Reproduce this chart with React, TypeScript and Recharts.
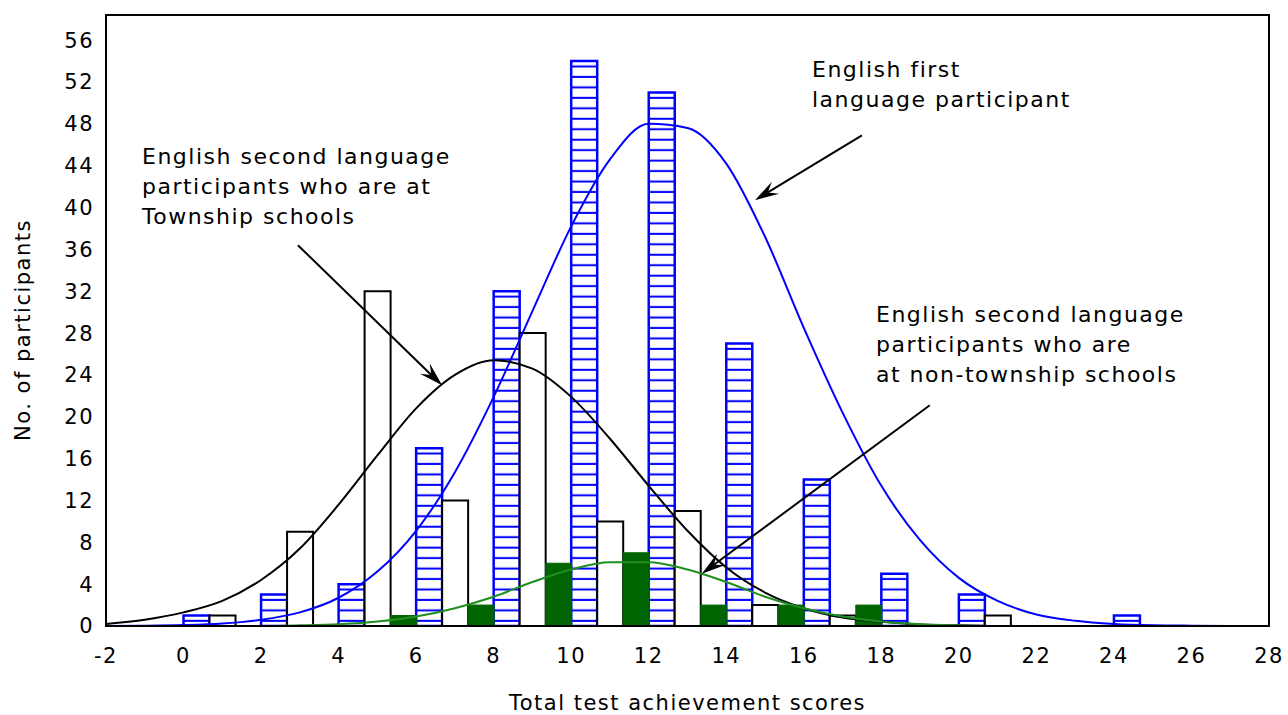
import {
  Bar,
  ComposedChart,
  Line,
  ReferenceArea,
  ReferenceLine,
  XAxis,
  YAxis,
} from "recharts";

// histogram bins (width 2, labelled by their lower edge)
const binStarts = [-2, 0, 2, 4, 6, 8, 10, 12, 14, 16, 18, 20, 22, 24, 26];
const firstLanguage = [0, 1, 3, 4, 17, 32, 54, 51, 27, 14, 5, 3, 0, 1, 0];
const township = [0, 1, 9, 32, 12, 28, 10, 11, 2, 1, 0, 1, 0, 0, 0];
const nonTownship = [0, 0, 0, 1, 2, 6, 7, 2, 2, 2, 0, 0, 0, 0, 0];

// fitted curves, read at each whole score
const curveX = [
  -2, -1, 0, 1, 2, 3, 4, 5, 6, 7, 8, 9, 10, 11, 12, 13, 14, 15, 16, 17, 18, 19,
  20, 21, 22, 23, 24, 25, 26, 27, 28,
];
const firstCurve = [
  0.01, 0.03, 0.09, 0.24, 0.6, 1.3, 2.7, 5.2, 9.1, 14.7, 21.9, 30.1, 38.2, 44.6,
  48.0, 47.6, 44.2, 37.2, 28.5, 20.4, 13.4, 8.2, 4.6, 2.4, 1.1, 0.5, 0.2, 0.07,
  0.03, 0.01, 0,
];
const townshipCurve = [
  0.2, 0.6, 1.3, 2.4, 4.4, 7.4, 11.6, 16.3, 20.8, 24.0, 25.4, 24.6, 21.9, 17.9,
  13.4, 9.1, 5.6, 3.2, 1.7, 0.8, 0.4, 0.15, 0.06, 0, 0, 0, 0, 0, 0, 0, 0,
];
const nonTownshipCurve = [
  0, 0, 0, 0, 0, 0.06, 0.17, 0.42, 0.9, 1.7, 2.8, 4.2, 5.4, 6.1, 6.1, 5.4, 4.2,
  2.8, 1.7, 0.9, 0.42, 0.17, 0.06, 0, 0, 0, 0, 0, 0, 0, 0,
];

const xTicks = [-2, 0, 2, 4, 6, 8, 10, 12, 14, 16, 18, 20, 22, 24, 26, 28];
const yTicks = [0, 4, 8, 12, 16, 20, 24, 28, 32, 36, 40, 44, 48, 52, 56];

const bins = binStarts.map((start, i) => ({
  bin: start,
  first: firstLanguage[i],
  township: township[i],
  nonTownship: nonTownship[i],
}));

const firstLine = curveX.map((x, i) => ({ x, v: firstCurve[i] }));
const townshipLine = curveX.map((x, i) => ({ x, v: townshipCurve[i] }));
const nonTownshipLine = curveX.map((x, i) => ({ x, v: nonTownshipCurve[i] }));

const FONT = "'DejaVu Sans', Verdana, sans-serif";

function Arrow(props: any) {
  const { x1, y1, x2, y2 } = props;
  const a = Math.atan2(y2 - y1, x2 - x1);
  const c = Math.cos(a);
  const s = Math.sin(a);
  const L = 24;
  const W = 7;
  const N = 15;
  const pts = [
    [x2, y2],
    [x2 - L * c + W * s, y2 - L * s - W * c],
    [x2 - N * c, y2 - N * s],
    [x2 - L * c - W * s, y2 - L * s + W * c],
  ];
  return (
    <g>
      <line
        x1={x1}
        y1={y1}
        x2={x2 - N * c}
        y2={y2 - N * s}
        stroke="#000"
        strokeWidth={2}
      />
      <polygon points={pts.map((p) => p.join(",")).join(" ")} fill="#000" />
    </g>
  );
}

const noteStyle: React.CSSProperties = {
  position: "absolute",
  fontFamily: FONT,
  fontSize: 22,
  letterSpacing: 1.5,
  lineHeight: "30px",
  color: "#000",
  whiteSpace: "nowrap",
};

export default function App() {
  return (
    <div
      style={{
        position: "absolute",
        left: 0,
        top: 0,
        width: 1288,
        height: 715,
        background: "#fff",
        fontFamily: FONT,
        letterSpacing: 1.5,
      }}
    >
      <ComposedChart
        width={1288}
        height={715}
        data={bins}
        margin={{ top: 15, right: 19, bottom: 29, left: 46 }}
        barGap={0}
        barCategoryGap={0}
      >
        <defs>
          <pattern
            id="rungs"
            patternUnits="userSpaceOnUse"
            width={8}
            height={10.46}
          >
            <rect width={8} height={10.46} fill="#fff" />
            <line x1={0} x2={8} y1={3.7} y2={3.7} stroke="#0000ff" strokeWidth={2} />
          </pattern>
        </defs>
        <XAxis xAxisId="cat" dataKey="bin" type="category" hide height={0} />
        <XAxis
          xAxisId="num"
          dataKey="x"
          type="number"
          domain={[-2, 28]}
          allowDataOverflow
          ticks={xTicks}
          height={60}
          tickLine={false}
          tickSize={6}
          tickMargin={16}
          axisLine={{ stroke: "#000", strokeWidth: 2 }}
          tick={{ fill: "#000", fontSize: 21 }}
        />
        <YAxis
          domain={[0, 58.4]}
          ticks={yTicks}
          allowDataOverflow
          width={60}
          tickLine={false}
          axisLine={false}
          tickSize={6}
          tickMargin={6}
          tick={{ fill: "#000", fontSize: 21 }}
        />
        <Bar
          xAxisId="cat"
          dataKey="first"
          fill="url(#rungs)"
          stroke="#0000ff"
          strokeWidth={2.5}
          isAnimationActive={false}
        />
        <Bar
          xAxisId="cat"
          dataKey="township"
          fill="#fff"
          stroke="#000"
          strokeWidth={2}
          isAnimationActive={false}
        />
        <Bar
          xAxisId="cat"
          dataKey="nonTownship"
          fill="#006400"
          stroke="#006400"
          strokeWidth={1}
          isAnimationActive={false}
        />
        <Line
          xAxisId="num"
          data={firstLine}
          dataKey="v"
          type="monotone"
          stroke="#0000ff"
          strokeWidth={2}
          dot={false}
          isAnimationActive={false}
        />
        <Line
          xAxisId="num"
          data={townshipLine}
          dataKey="v"
          type="monotone"
          stroke="#000"
          strokeWidth={2}
          dot={false}
          isAnimationActive={false}
        />
        <Line
          xAxisId="num"
          data={nonTownshipLine}
          dataKey="v"
          type="monotone"
          stroke="#1f8f1f"
          strokeWidth={2}
          dot={false}
          isAnimationActive={false}
        />
        <ReferenceArea
          xAxisId="num"
          x1={-2}
          x2={28}
          y1={0}
          y2={58.4}
          fill="none"
          stroke="#000"
          strokeWidth={2}
          fillOpacity={0}
        />
        <ReferenceLine
          xAxisId="num"
          segment={[
            { x: 17.5, y: 46.9 },
            { x: 14.74, y: 40.7 },
          ]}
          shape={Arrow}
        />
        <ReferenceLine
          xAxisId="num"
          segment={[
            { x: 2.95, y: 36.4 },
            { x: 6.67, y: 23.0 },
          ]}
          shape={Arrow}
        />
        <ReferenceLine
          xAxisId="num"
          segment={[
            { x: 19.25, y: 21.1 },
            { x: 13.37, y: 5.0 },
          ]}
          shape={Arrow}
        />
      </ComposedChart>

      <div style={{ ...noteStyle, left: 812, top: 55 }}>
        English first
        <br />
        language participant
      </div>
      <div style={{ ...noteStyle, left: 142, top: 142 }}>
        English second language
        <br />
        participants who are at
        <br />
        Township schools
      </div>
      <div style={{ ...noteStyle, left: 876, top: 300 }}>
        English second language
        <br />
        participants who are
        <br />
        at non-township schools
      </div>

      <div
        style={{
          position: "absolute",
          left: 106,
          width: 1163,
          top: 693,
          textAlign: "center",
          fontSize: 21,
          lineHeight: 1,
          whiteSpace: "nowrap",
        }}
      >
        Total test achievement scores
      </div>
      <div
        style={{
          position: "absolute",
          left: 23,
          top: 330,
          transform: "translate(-50%, -50%) rotate(-90deg)",
          fontSize: 21,
          lineHeight: 1,
          whiteSpace: "nowrap",
        }}
      >
        No. of participants
      </div>
    </div>
  );
}
